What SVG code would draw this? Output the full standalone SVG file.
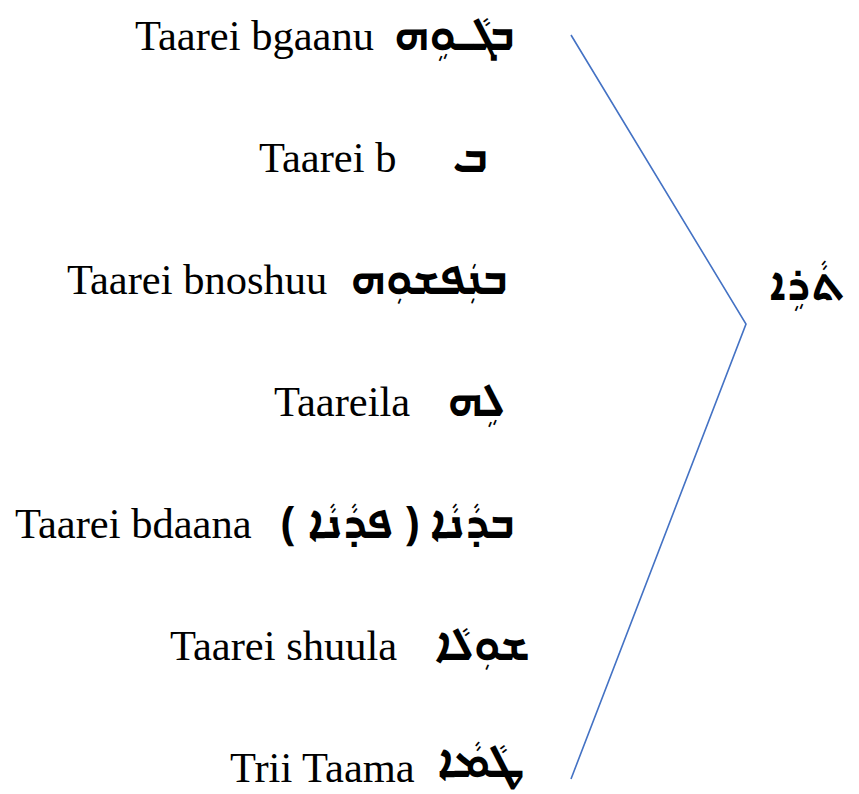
<svg xmlns="http://www.w3.org/2000/svg" width="859" height="794" viewBox="0 0 859 794">
  <style>
    .lat { font-family: "Liberation Serif", "Times New Roman", serif; font-size: 42.5px; fill: #000; }
    .syr { font-family: "Noto Sans Syriac Eastern", "Noto Sans Syriac", "Estrangelo Edessa", "East Syriac Adiabene", serif; font-size: 44px; font-weight: bold; fill: #000; }
    .brace { fill: none; stroke: #4472C4; stroke-width: 1.6; }
  </style>
  <rect width="859" height="794" fill="#fff"/>

  <g id="item-bgaanu">
    <text class="lat" x="135" y="50">Taarei bgaanu</text>
    <text class="syr" x="515" y="50" direction="rtl" text-anchor="start">ܒܓܵـܘܹܗ</text>
  </g>
  <g id="item-b">
    <text class="lat" x="259" y="172">Taarei b</text>
    <text class="syr" x="488" y="172" direction="rtl" text-anchor="start">ܒ</text>
  </g>
  <g id="item-bnoshuu">
    <text class="lat" x="67" y="294">Taarei bnoshuu</text>
    <text class="syr" x="508" y="294" direction="rtl" text-anchor="start">ܒܢܲܦܫܘܼܗ</text>
  </g>
  <g id="item-la">
    <text class="lat" x="274" y="416">Taareila</text>
    <text class="syr" x="505" y="416" direction="rtl" text-anchor="start">ܠܹܗ</text>
  </g>
  <g id="item-bdaana">
    <text class="lat" x="15" y="538">Taarei bdaana</text>
    <text class="syr" x="515" y="538" direction="rtl" text-anchor="start">ܒܕܵܢܵܐ ( ܦܕܵܢܵܐ )</text>
  </g>
  <g id="item-shuula">
    <text class="lat" x="170" y="660">Taarei shuula</text>
    <text class="syr" x="530" y="660" direction="rtl" text-anchor="start">ܫܘܼܠܵܐ</text>
  </g>
  <g id="item-taama">
    <text class="lat" x="230" y="782">Trii Taama</text>
    <text class="syr" x="525" y="777" direction="rtl" text-anchor="start">ܛܵܡܵܐ</text>
  </g>

  <g id="connectors">
    <polyline class="brace" points="571,35 746,324 571,779"/>
  </g>

  <g id="item-taarei">
    <text class="syr" x="845" y="300" direction="rtl" text-anchor="start">ܬܵܪܹܐ</text>
  </g>
</svg>
